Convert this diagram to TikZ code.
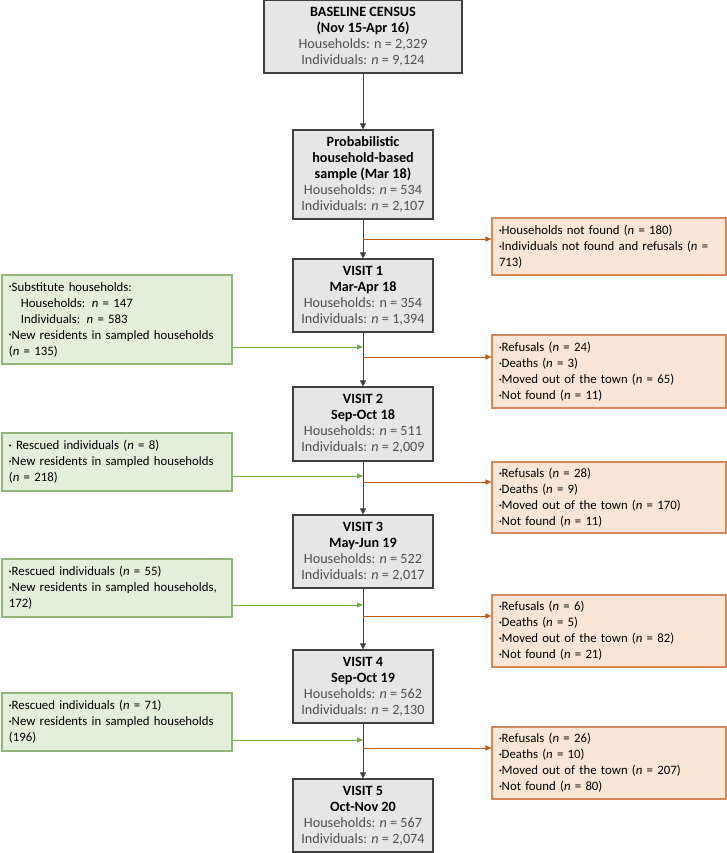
\documentclass[tikz,border=0pt]{standalone}
\usepackage{fontspec}
\setmainfont{Carlito}
\usetikzlibrary{arrows.meta}
\definecolor{boxgray}{HTML}{E7E6E6}
\definecolor{edgegray}{HTML}{404040}
\definecolor{txtgray}{HTML}{505050}
\definecolor{boxgreen}{HTML}{E2EFDA}
\definecolor{edgegreen}{HTML}{93B57A}
\definecolor{arrgreen}{HTML}{70AD47}
\definecolor{boxorange}{HTML}{FBE5D6}
\definecolor{edgeorange}{HTML}{D48A58}
\definecolor{arrorange}{HTML}{C55A11}
\newcommand{\bul}{\raisebox{.35ex}{\fontsize{5.5}{5.5}\selectfont\textbullet}}
\newcommand{\nn}{\textit{n}}
\newcommand{\gl}[1]{\textcolor{txtgray}{#1}}

\begin{document}
\begin{tikzpicture}[x=1pt,y=1pt,
    font=\fontsize{12.8}{16}\selectfont,
    visitbox/.style={draw=edgegray, line width=1.1pt, fill=boxgray, align=center, minimum width=140pt, inner sep=1pt, font=\fontsize{14.2}{16}\selectfont},
    addbox/.style={draw=edgegreen, line width=1.1pt, fill=boxgreen, align=left, text width=216pt, minimum width=230pt, inner xsep=7pt, inner ysep=3pt},
    lossbox/.style={draw=edgeorange, line width=1.1pt, fill=boxorange, align=left, text width=220pt, minimum width=234pt, inner xsep=7pt, inner ysep=3pt},
    flow/.style={draw=edgegray, line width=0.8pt, -{Triangle[length=6pt,width=6pt]}},
    addarrow/.style={draw=arrgreen, line width=0.8pt, -{Triangle[length=6pt,width=5pt]}},
    lossarrow/.style={draw=arrorange, line width=0.8pt, -{Triangle[length=6pt,width=5pt]}}]
\useasboundingbox (0,0) rectangle (727,-853);

\node[visitbox, minimum width=198pt, minimum height=73pt] (census) at (363,-36.5) {\textbf{BASELINE CENSUS}\\\textbf{(Nov 15-Apr 16)}\\\gl{Households: n = 2,329}\\\gl{Individuals: \nn{} = 9,124}};
\node[visitbox, minimum height=89pt] (sample) at (363,-174.5) {\textbf{Probabilistic}\\\textbf{household-based}\\\textbf{sample (Mar 18)}\\\gl{Households: \nn{} = 534}\\\gl{Individuals: \nn{} = 2,107}};
\node[visitbox, minimum height=73pt] (visit1) at (363,-295.5) {\textbf{VISIT 1}\\\textbf{Mar-Apr 18}\\\gl{Households: n = 354}\\\gl{Individuals: \nn{} = 1,394}};
\node[visitbox, minimum height=74pt] (visit2) at (363,-424) {\textbf{VISIT 2}\\\textbf{Sep-Oct 18}\\\gl{Households: \nn{} = 511}\\\gl{Individuals: \nn{} = 2,009}};
\node[visitbox, minimum height=73pt] (visit3) at (363,-551.5) {\textbf{VISIT 3}\\\textbf{May-Jun 19}\\\gl{Households: \nn{} = 522}\\\gl{Individuals: \nn{} = 2,017}};
\node[visitbox, minimum height=73pt] (visit4) at (363,-686.5) {\textbf{VISIT 4}\\\textbf{Sep-Oct 19}\\\gl{Households: \nn{} = 562}\\\gl{Individuals: \nn{} = 2,130}};
\node[visitbox, minimum height=73pt] (visit5) at (363,-815.5) {\textbf{VISIT 5}\\\textbf{Oct-Nov 20}\\\gl{Households: \nn{} = 567}\\\gl{Individuals: \nn{} = 2,074}};

\node[addbox, minimum height=89pt] (add1) at (117,-319.5) {\bul Substitute households:\\\hspace*{12pt}Households: \nn{} = 147\\\hspace*{12pt}Individuals: \nn{} = 583\\\bul New residents in sampled households\\(\nn{} = 135)};
\node[addbox, minimum height=58pt] (add2) at (117,-462) {\bul{} Rescued individuals (\nn{} = 8)\\\bul New residents in sampled households\\(\nn{} = 218)};
\node[addbox, minimum height=58pt] (add3) at (117,-588) {\bul Rescued individuals (\nn{} = 55)\\\bul New residents in sampled households,\\172)};
\node[addbox, minimum height=58pt] (add4) at (117,-722) {\bul Rescued individuals (\nn{} = 71)\\\bul New residents in sampled households\\(196)};

\node[lossbox, minimum height=57pt] (loss1) at (609,-246.5) {\bul Households not found (\nn{} = 180)\\\bul Individuals not found and refusals (\nn{} =\\713)};
\node[lossbox, minimum height=73pt] (loss2) at (609,-371.5) {\bul Refusals (\nn{} = 24)\\\bul Deaths (\nn{} = 3)\\\bul Moved out of the town (\nn{} = 65)\\\bul Not found (\nn{} = 11)};
\node[lossbox, minimum height=71pt] (loss3) at (609,-497.5) {\bul Refusals (\nn{} = 28)\\\bul Deaths (\nn{} = 9)\\\bul Moved out of the town (\nn{} = 170)\\\bul Not found (\nn{} = 11)};
\node[lossbox, minimum height=72pt] (loss4) at (609,-631) {\bul Refusals (\nn{} = 6)\\\bul Deaths (\nn{} = 5)\\\bul Moved out of the town (\nn{} = 82)\\\bul Not found (\nn{} = 21)};
\node[lossbox, minimum height=72pt] (loss5) at (609,-763) {\bul Refusals (\nn{} = 26)\\\bul Deaths (\nn{} = 10)\\\bul Moved out of the town (\nn{} = 207)\\\bul Not found (\nn{} = 80)};

\coordinate (out1) at (363,-239);
\coordinate (in1) at (363,-347);
\coordinate (out2) at (363,-357);
\coordinate (in2) at (363,-476);
\coordinate (out3) at (363,-482);
\coordinate (in3) at (363,-605);
\coordinate (out4) at (363,-616);
\coordinate (in4) at (363,-740);
\coordinate (out5) at (363,-748);

\draw[flow] (census) -- (sample);
\draw[flow] (sample) -- (visit1);
\draw[flow] (visit1) -- (visit2);
\draw[flow] (visit2) -- (visit3);
\draw[flow] (visit3) -- (visit4);
\draw[flow] (visit4) -- (visit5);

\draw[lossarrow] (out1) -- (loss1.west |- out1);
\draw[lossarrow] (out2) -- (loss2.west |- out2);
\draw[lossarrow] (out3) -- (loss3.west |- out3);
\draw[lossarrow] (out4) -- (loss4.west |- out4);
\draw[lossarrow] (out5) -- (loss5.west |- out5);

\draw[addarrow] (add1.east |- in1) -- (in1);
\draw[addarrow] (add2.east |- in2) -- (in2);
\draw[addarrow] (add3.east |- in3) -- (in3);
\draw[addarrow] (add4.east |- in4) -- (in4);
\end{tikzpicture}
\end{document}
